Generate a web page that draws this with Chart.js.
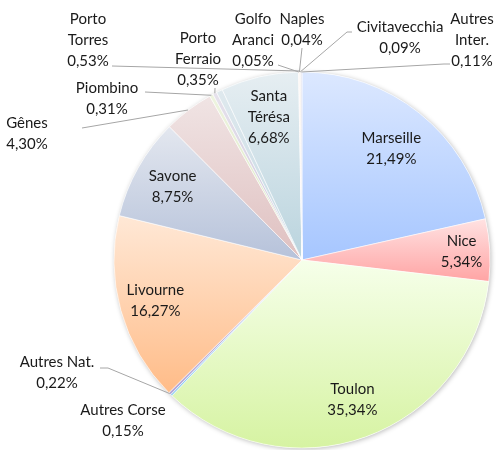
<!DOCTYPE html>
<html>
<head>
    <meta charset="utf-8">
    <title>Répartition des passagers par port</title>
    <style>
        body { margin: 0; background: #fff; }
        .chart-container { width: 502px; height: 450px; }
    </style>
</head>
<body>
    <div class="chart-container">
        <canvas id="chartId" width="502" height="450"></canvas>
    </div>

    <script src="https://cdn.jsdelivr.net/npm/chart.js@4.4.1/dist/chart.umd.min.js"></script>

    <script>
        // data, clockwise from 12 o'clock
        var ports = ["Marseille", "Nice", "Toulon", "Autres Corse", "Autres Nat.", "Livourne", "Savone", "Gênes",
                     "Piombino", "Porto Ferraio", "Porto Torres", "Santa Térésa", "Golfo Aranci", "Naples",
                     "Civitavecchia", "Autres Inter."];
        var shares = [21.49, 5.34, 35.34, 0.15, 0.22, 16.27, 8.75, 4.30,
                      0.31, 0.35, 0.53, 6.68, 0.05, 0.04, 0.09, 0.11];

        // top / bottom colours of each slice gradient
        var topColors = ["#dce8ff", "#ffe2e2", "#f6ffea", "#c4e6f8", "#d4cce8", "#ffe8d6", "#e3e7ef", "#f0e4e4",
                         "#eef4e0", "#e6e2ec", "#dfe9ee", "#e6eef2", "#fde2d8", "#ffdcdc", "#f2e6d8", "#e4e4f0"];
        var bottomColors = ["#a6c6ff", "#ffa4a4", "#d6f3a2", "#8ecdf0", "#b2a6d8", "#ffbc88", "#b6c2da", "#dfc0c0",
                            "#d8e6bc", "#c8c2da", "#c2d8e2", "#bad4de", "#f6baa8", "#ffb8b8", "#e2cdb0", "#c8c8e0"];

        // label placement: inside labels sit at a fraction of the radius,
        // outside ones get a text anchor and a leader line
        var labelLayout = {
            0: { r: 0.76 },
            1: { r: 0.85 },
            2: { r: 0.79 },
            3: { x: 123, y: 410 },
            4: { x: 57, y: 362, line: [[100, 368], [108, 368]] },
            5: { r: 0.81 },
            6: { r: 0.79 },
            7: { x: 27, y: 123, line: [[82, 128]], end: [188, 110] },
            8: { x: 107, y: 88, line: [[145, 92]] },
            9: { x: 198, y: 38, wrap: true, line: [[215, 88]] },
            10: { x: 88, y: 19, wrap: true, line: [[112, 66]], end: [300, 71] },
            11: { r: 0.78, wrap: true },
            12: { x: 253, y: 19, wrap: true, line: [[278, 65]] },
            13: { x: 302, y: 19, line: [[302, 48]] },
            14: { x: 400, y: 27, line: [[352, 32], [347, 32]] },
            15: { x: 472, y: 19, wrap: true, line: [[450, 64], [444, 64]] }
        };

        function fmtPct(v) {
            return v.toFixed(2).replace('.', ',') + '%';
        }

        // vertical extent of a pie slice, for its gradient
        function arcYRange(arc) {
            var ys = [arc.y];
            var a0 = arc.startAngle, a1 = arc.endAngle, r = arc.outerRadius;
            ys.push(arc.y + r * Math.sin(a0), arc.y + r * Math.sin(a1));
            [Math.PI / 2, -Math.PI / 2, 3 * Math.PI / 2].forEach(function (a) {
                if (a > a0 && a < a1) ys.push(arc.y + r * Math.sin(a));
            });
            return [Math.min.apply(null, ys), Math.max.apply(null, ys)];
        }

        var sliceStyle = {
            id: 'sliceStyle',
            beforeDatasetsDraw: function (chart) {
                var ctx = chart.ctx;
                var arcs = chart.getDatasetMeta(0).data;
                arcs.forEach(function (arc, i) {
                    var yr = arcYRange(arc);
                    var g = ctx.createLinearGradient(0, yr[0], 0, yr[1] + 0.01);
                    g.addColorStop(0, topColors[i]);
                    g.addColorStop(1, bottomColors[i]);
                    arc.options.backgroundColor = g;
                });
                // soft shadow behind the pie
                var a = arcs[0];
                ctx.save();
                ctx.shadowColor = 'rgba(0,0,0,0.28)';
                ctx.shadowBlur = 5;
                ctx.shadowOffsetX = 1;
                ctx.shadowOffsetY = 1;
                ctx.fillStyle = '#fff';
                ctx.beginPath();
                ctx.arc(a.x, a.y, a.outerRadius, 0, Math.PI * 2);
                ctx.fill();
                ctx.restore();
            }
        };

        var pieLabels = {
            id: 'pieLabels',
            afterDatasetsDraw: function (chart) {
                var ctx = chart.ctx;
                var arcs = chart.getDatasetMeta(0).data;
                var lineH = 21;
                ctx.save();
                ctx.font = '15px Lato, "Open Sans", sans-serif';
                ctx.textAlign = 'center';
                ctx.textBaseline = 'middle';
                arcs.forEach(function (arc, i) {
                    var lay = labelLayout[i] || { r: 0.78 };
                    var mid = (arc.startAngle + arc.endAngle) / 2;
                    var lines = lay.wrap ? ports[i].split(' ') : [ports[i]];
                    lines = lines.concat([fmtPct(shares[i])]);
                    var x, y;
                    if (lay.r) {
                        var rr = arc.outerRadius * lay.r;
                        x = arc.x + rr * Math.cos(mid);
                        y = arc.y + rr * Math.sin(mid) - (lines.length - 1) * lineH / 2;
                    } else {
                        x = lay.x;
                        y = lay.y;
                        if (lay.line) {
                            var end = lay.end || [arc.x + arc.outerRadius * Math.cos(mid),
                                                  arc.y + arc.outerRadius * Math.sin(mid)];
                            ctx.strokeStyle = '#a6a6a6';
                            ctx.lineWidth = 1;
                            ctx.beginPath();
                            ctx.moveTo(lay.line[0][0], lay.line[0][1]);
                            lay.line.slice(1).forEach(function (p) { ctx.lineTo(p[0], p[1]); });
                            ctx.lineTo(end[0], end[1]);
                            ctx.stroke();
                        }
                    }
                    ctx.fillStyle = '#1a1a1a';
                    lines.forEach(function (t, k) {
                        ctx.fillText(t, x, y + k * lineH);
                    });
                });
                ctx.restore();
            }
        };

        var chrt = document.getElementById("chartId").getContext("2d");
        var chartId = new Chart(chrt, {
            type: 'pie',
            data: {
                labels: ports,
                datasets: [{
                    data: shares,
                    backgroundColor: topColors,
                    borderColor: 'rgba(255,255,255,0.7)',
                    borderWidth: 0.8
                }]
            },
            options: {
                responsive: false,
                animation: false,
                radius: 188,
                layout: {
                    padding: { left: 114, right: 12, top: 72, bottom: 2 }
                },
                plugins: {
                    legend: { display: false },
                    tooltip: { enabled: false }
                }
            },
            plugins: [sliceStyle, pieLabels]
        });
    </script>
</body>
</html>
